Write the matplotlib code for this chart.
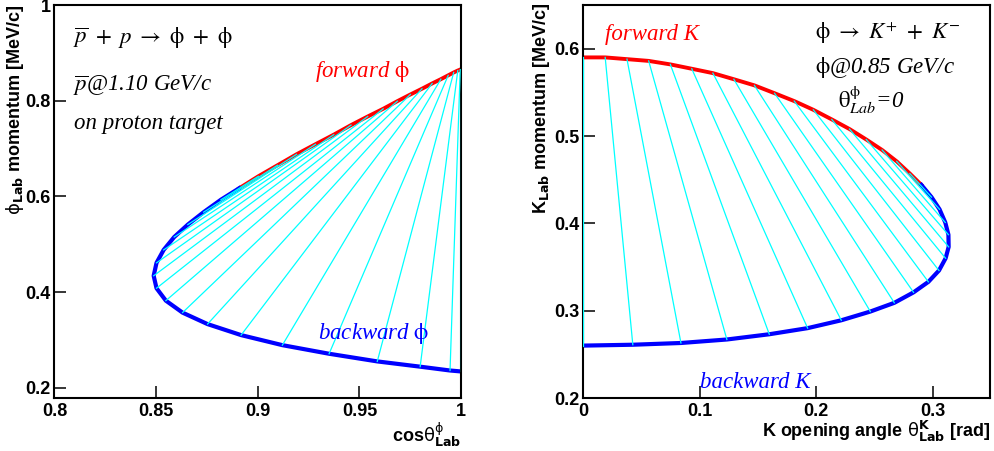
import matplotlib
matplotlib.use('Agg')
import matplotlib.pyplot as plt

# pbar + p -> phi + phi at 1.10 GeV/c, pairs taken every 5 deg in the CM frame
# forward phi (theta* = 0 .. 90)
phi_fwd_cos = [1.0, 0.9996, 0.9984, 0.9964, 0.9937, 0.9901, 0.9858, 0.9808, 0.9751, 0.9687,
               0.9617, 0.9541, 0.9459, 0.9374, 0.9284, 0.9191, 0.9097, 0.9003, 0.8909]
phi_fwd_p = [0.866, 0.865, 0.863, 0.859, 0.853, 0.845, 0.836, 0.825, 0.813, 0.799,
             0.783, 0.767, 0.749, 0.729, 0.709, 0.688, 0.665, 0.642, 0.617]
# backward phi partner (theta* = 180 .. 90)
phi_bwd_cos = [1.0, 0.9946, 0.9799, 0.9588, 0.9351, 0.9121, 0.8918, 0.8753, 0.8630, 0.8548,
               0.8502, 0.8488, 0.8502, 0.8537, 0.8589, 0.8656, 0.8734, 0.8819, 0.8909]
phi_bwd_p = [0.234, 0.236, 0.244, 0.255, 0.271, 0.289, 0.310, 0.333, 0.357, 0.382,
             0.408, 0.434, 0.461, 0.488, 0.515, 0.541, 0.567, 0.593, 0.617]

# phi -> K+ K- at 0.85 GeV/c
k_fwd_ang = [0.0, 0.0188, 0.0375, 0.0561, 0.0747, 0.0931, 0.1112, 0.1292, 0.1468, 0.1641,
             0.1810, 0.1974, 0.2132, 0.2284, 0.2428, 0.2564, 0.2689, 0.2802, 0.2901]
k_fwd_p = [0.590, 0.590, 0.588, 0.586, 0.582, 0.577, 0.572, 0.565, 0.558, 0.549,
           0.540, 0.530, 0.519, 0.508, 0.496, 0.484, 0.471, 0.457, 0.444]
k_bwd_ang = [0.0, 0.0425, 0.0838, 0.1232, 0.1596, 0.1925, 0.2214, 0.2463, 0.2669, 0.2834,
             0.2961, 0.3052, 0.3109, 0.3135, 0.3133, 0.3106, 0.3057, 0.2988, 0.2901]
k_bwd_p = [0.260, 0.261, 0.263, 0.267, 0.273, 0.280, 0.289, 0.299, 0.309, 0.321,
           0.333, 0.346, 0.360, 0.373, 0.387, 0.401, 0.416, 0.430, 0.444]

left_xticks = [0.8, 0.85, 0.9, 0.95, 1.0]
left_xticklabels = ['0.8', '0.85', '0.9', '0.95', '1']
left_yticks = [0.2, 0.4, 0.6, 0.8, 1.0]
left_yticklabels = ['0.2', '0.4', '0.6', '0.8', '1']
right_xticks = [0.0, 0.1, 0.2, 0.3]
right_xticklabels = ['0', '0.1', '0.2', '0.3']
right_yticks = [0.2, 0.3, 0.4, 0.5, 0.6]
right_yticklabels = ['0.2', '0.3', '0.4', '0.5', '0.6']

plt.rcParams['font.family'] = ['Liberation Sans', 'DejaVu Sans']
SERIF = ['Liberation Serif', 'DejaVu Serif']
TXT = 16.5


def style_axes(ax, xt, xtl, yt, ytl):
    for s in ax.spines.values():
        s.set_linewidth(1.5)
    ax.set_xticks(xt)
    ax.set_xticklabels(xtl, fontsize=13, fontweight='bold')
    ax.set_yticks(yt)
    ax.set_yticklabels(ytl, fontsize=13, fontweight='bold')
    ax.tick_params(direction='in', length=8.5, width=1.1, top=False, right=False)
    ax.tick_params(axis='x', pad=3.5)
    ax.tick_params(axis='y', pad=2.5)


def draw_pairs(ax, x1, y1, x2, y2):
    ax.plot(x1, y1, color='#ff0000', lw=2.8, solid_joinstyle='round', zorder=2)
    ax.plot(x2, y2, color='#0000ff', lw=3.0, solid_joinstyle='round', zorder=2)
    for a, b, c, d in zip(x1, y1, x2, y2):
        ax.plot([a, c], [b, d], color='#00ffff', lw=0.9, zorder=3)


fig = plt.figure(figsize=(9.94, 4.51), dpi=100)
ax1 = fig.add_axes([0.0548, 0.1175, 0.4090, 0.8714])
ax2 = fig.add_axes([0.5868, 0.1175, 0.4092, 0.8714])

# left: phi momentum vs cos(theta)
draw_pairs(ax1, phi_fwd_cos, phi_fwd_p, phi_bwd_cos, phi_bwd_p)
ax1.set_xlim(0.8, 1.0)
ax1.set_ylim(0.1785, 1.0)
style_axes(ax1, left_xticks, left_xticklabels, left_yticks, left_yticklabels)
ax1.set_ylabel(r'$\mathrm{\phi}_{\mathbf{Lab}}$ momentum [MeV/c]', fontsize=13,
               fontweight='bold', loc='top')
ax1.yaxis.set_label_coords(-0.071, 1.0)
ax1.set_xlabel(r'cos$\mathrm{\theta}^{\mathrm{\phi}}_{\mathbf{Lab}}$', fontsize=13,
               fontweight='bold', loc='right')
ax1.xaxis.set_label_coords(1.0, -0.058)

ax1.text(0.0455, 0.903, r'$\overline{p}\ +\ p\ \rightarrow\ \mathrm{\phi}\ +\ \mathrm{\phi}$',
         transform=ax1.transAxes, fontsize=TXT, math_fontfamily='stix', va='baseline')
ax1.text(0.0455, 0.781, r'$\overline{p}$@1.10 GeV/c', transform=ax1.transAxes, fontsize=TXT,
         family=SERIF, style='italic', math_fontfamily='stix', va='baseline')
ax1.text(0.048, 0.684, 'on proton target', transform=ax1.transAxes, fontsize=TXT,
         family=SERIF, style='italic', va='baseline')
ax1.text(0.641, 0.816, r'forward $\mathrm{\phi}$', transform=ax1.transAxes, fontsize=TXT,
         family=SERIF, style='italic', math_fontfamily='stix', color='#ff0000', va='baseline')
ax1.text(0.649, 0.149, r'backward $\mathrm{\phi}$', transform=ax1.transAxes, fontsize=TXT,
         family=SERIF, style='italic', math_fontfamily='stix', color='#0000ff', va='baseline')

# right: kaon momentum vs opening angle
draw_pairs(ax2, k_fwd_ang, k_fwd_p, k_bwd_ang, k_bwd_p)
ax2.set_xlim(0.0, 0.349)
ax2.set_ylim(0.2, 0.65)
style_axes(ax2, right_xticks, right_xticklabels, right_yticks, right_yticklabels)
ax2.set_ylabel(r'K$_{\mathbf{Lab}}$ momentum [MeV/c]', fontsize=13, fontweight='bold', loc='top')
ax2.yaxis.set_label_coords(-0.076, 1.005)
ax2.set_xlabel(r'K opening angle $\mathrm{\theta}^{\mathbf{K}}_{\mathbf{Lab}}$ [rad]', fontsize=13,
               fontweight='bold', loc='right')
ax2.xaxis.set_label_coords(1.0, -0.052)

ax2.text(0.0534, 0.911, 'forward K', transform=ax2.transAxes, fontsize=TXT,
         family=SERIF, style='italic', color='#ff0000', va='baseline')
ax2.text(0.570, 0.913, r'$\mathrm{\phi}\ \rightarrow\ K^{+}\ +\ K^{-}$', transform=ax2.transAxes,
         fontsize=TXT, math_fontfamily='stix', va='baseline')
ax2.text(0.570, 0.826, r'$\mathrm{\phi}$@0.85 GeV/c', transform=ax2.transAxes, fontsize=TXT,
         family=SERIF, style='italic', math_fontfamily='stix', va='baseline')
ax2.text(0.626, 0.738, r'$\mathrm{\theta}^{\mathrm{\phi}}_{Lab}$=0', transform=ax2.transAxes,
         fontsize=TXT, family=SERIF, style='italic', math_fontfamily='stix', va='baseline')
ax2.text(0.287, 0.026, 'backward K', transform=ax2.transAxes, fontsize=TXT,
         family=SERIF, style='italic', color='#0000ff', va='baseline')

fig.savefig('out.png', dpi=100)
